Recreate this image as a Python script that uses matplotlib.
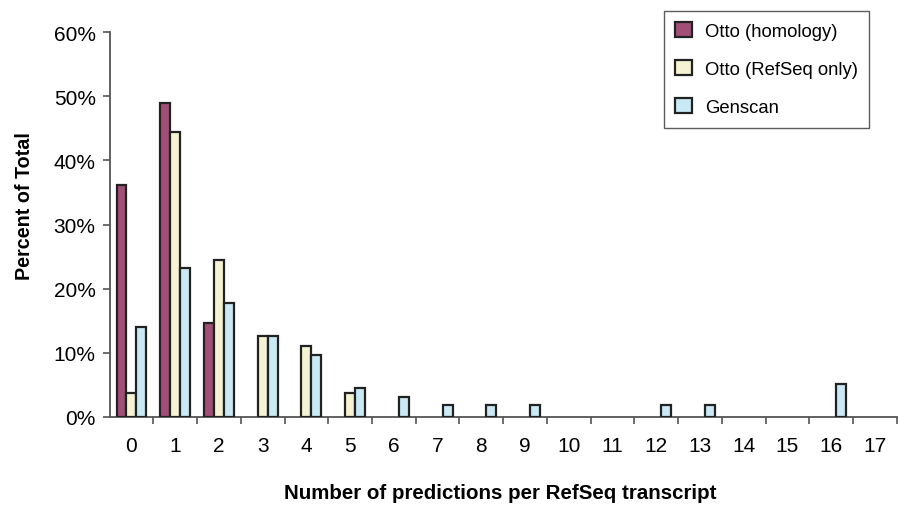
import numpy as np
import matplotlib
matplotlib.use("Agg")
import matplotlib.pyplot as plt
from matplotlib.patches import Patch
from matplotlib.ticker import FixedLocator, PercentFormatter

plt.rcParams['font.family'] = ['Liberation Sans', 'DejaVu Sans']

# data (percent of total)
categories = list(range(18))
otto_homology = [36.2, 48.9, 14.6, 0, 0, 0, 0, 0, 0, 0, 0, 0, 0, 0, 0, 0, 0, 0]
otto_refseq = [3.7, 44.4, 24.5, 12.6, 11.0, 3.7, 0, 0, 0, 0, 0, 0, 0, 0, 0, 0, 0, 0]
genscan = [14.0, 23.2, 17.8, 12.6, 9.6, 4.5, 3.1, 1.9, 1.9, 1.9, 0, 0, 1.9, 1.9, 0, 0, 5.1, 0]
series_names = ["Otto (homology)", "Otto (RefSeq only)", "Genscan"]
colors = ["#a24f78", "#f5f3d3", "#c9e9f4"]
edge = "#222222"

fig = plt.figure(figsize=(9.19, 5.06), dpi=100)
ax = fig.add_axes([109.6/919, 1-418/506, (896.7-109.6)/919, (418-33)/506])

x = np.array(categories)
w = 0.228
for k, vals in enumerate([otto_homology, otto_refseq, genscan]):
    vals = np.array(vals, dtype=float)
    m = vals > 0
    ax.bar(x[m] + (k-1)*w, vals[m], width=w, color=colors[k], edgecolor=edge, linewidth=1.6, zorder=3)

ax.set_xlim(-0.5, 17.5)
ax.set_ylim(0, 60)
ax.set_yticks(np.arange(0, 61, 10))
ax.yaxis.set_major_formatter(PercentFormatter(decimals=0))
ax.set_xticks(x)
ax.set_xticklabels([str(c) for c in categories])
ax.xaxis.set_minor_locator(FixedLocator(np.arange(0.5, 17.6, 1)))
ax.tick_params(axis='x', which='major', length=0, pad=14, labelsize=15)
ax.tick_params(axis='x', which='minor', length=5, width=1.2, color="#555555", direction='out')
ax.tick_params(axis='y', length=5, width=1.2, color="#555555", pad=5, labelsize=15)
ax.spines['top'].set_visible(False)
ax.spines['right'].set_visible(False)
for s in ['left', 'bottom']:
    ax.spines[s].set_color("#555555")
    ax.spines[s].set_linewidth(1.3)

ax.set_xlabel("Number of predictions per RefSeq transcript", fontsize=14.8, fontweight='bold')
ax.xaxis.set_label_coords(0.496, -0.197)
ax.xaxis.label.set_va('center')
ax.set_ylabel("Percent of Total", fontsize=14.2, fontweight='bold')
ax.yaxis.set_label_coords(-0.1078, 0.551)
ax.yaxis.label.set_va('center')

handles = [Patch(facecolor=colors[k], edgecolor=edge, linewidth=1.6) for k in range(3)]
leg = fig.legend(handles, series_names, loc='upper left',
                 bbox_to_anchor=(664/919, 1-11.7/506), fontsize=13.3,
                 frameon=True, fancybox=False, handlelength=0.9, handleheight=0.9,
                 labelspacing=1.08, borderpad=0.62, handletextpad=0.7, borderaxespad=0)
leg.get_frame().set_edgecolor("#333333")
leg.get_frame().set_linewidth(1.0)

fig.savefig("out.png", dpi=100)
